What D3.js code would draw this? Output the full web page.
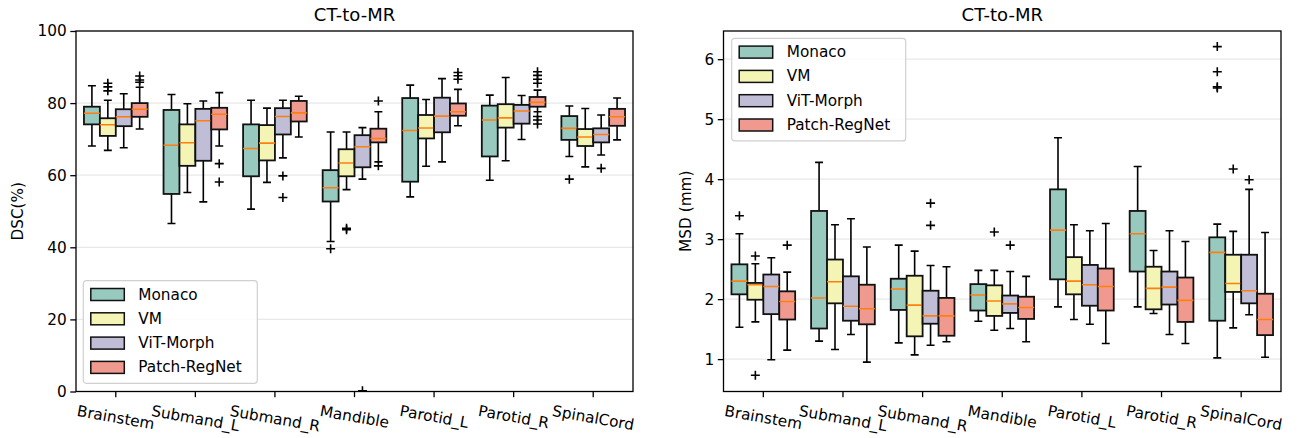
<!DOCTYPE html>
<html>
<head>
<meta charset="utf-8">
<script src="https://cdn.jsdelivr.net/npm/d3@7"></script>
<style>
  body { margin: 0; background: #fff; }
  svg { font-family: "DejaVu Sans", sans-serif; }
</style>
</head>
<body>
<svg id="chart" width="1298" height="438"></svg>
<script>
const categories = ['Brainstem', 'Submand_L', 'Submand_R', 'Mandible', 'Parotid_L', 'Parotid_R', 'SpinalCord'];
const methods = ['Monaco', 'VM', 'ViT-Morph', 'Patch-RegNet'];

// DSC (%) box stats per category: [lowWhisker, q1, median, q3, highWhisker]
const dscMonaco = [[68.1, 74.1, 77.2, 79.0, 84.8], [46.6, 54.8, 68.3, 78.1, 82.4], [50.6, 59.7, 67.4, 74.1, 80.8],
    [41.6, 52.7, 56.5, 61.4, 72.0], [54.0, 58.2, 72.4, 81.4, 85.0], [58.6, 65.2, 75.3, 79.3, 82.2], [65.2, 69.8, 73.0, 76.4, 79.2]];
const dscVM = [[66.9, 70.9, 74.0, 75.8, 80.8], [55.2, 62.6, 69.0, 74.1, 79.8], [58.0, 64.1, 68.9, 73.9, 78.6],
    [56.0, 59.7, 63.4, 67.2, 72.0], [62.5, 70.2, 73.1, 76.7, 81.0], [64.0, 73.2, 75.9, 79.7, 87.1], [62.3, 68.1, 70.6, 72.8, 78.5]];
const dscViT = [[67.6, 73.6, 76.2, 78.3, 82.6], [52.6, 64.0, 75.1, 78.4, 80.6], [64.8, 71.3, 76.3, 78.6, 80.8],
    [58.9, 62.2, 67.9, 71.1, 73.2], [63.7, 71.9, 76.4, 81.5, 86.8], [69.9, 74.3, 77.8, 79.5, 82.1], [65.6, 69.1, 71.3, 73.0, 76.7]];
const dscPatch = [[72.8, 76.2, 78.3, 80.0, 84.4], [68.1, 72.7, 76.9, 78.7, 82.9], [70.6, 74.9, 77.3, 80.6, 81.9],
    [63.7, 69.1, 70.2, 72.9, 77.6], [73.7, 76.5, 77.6, 79.9, 83.8], [77.6, 79.0, 80.2, 81.7, 83.6], [69.8, 73.7, 76.2, 78.4, 81.4]];

// DSC outliers per category
const dscMonacoOut = [[], [], [], [39.6], [], [], [58.9]];
const dscVMOut = [[85.5, 84.5, 83.4], [], [], [45.3, 44.9], [], [], []];
const dscViTOut = [[], [], [59.8, 53.8], [0.2], [], [], [61.9]];
const dscPatchOut = [[87.5, 86.4, 85.8], [63.2, 58.1], [], [80.6, 62.6], [88.5, 87.6, 86.6],
    [88.7, 87.7, 86.6, 85.5, 76.3, 75.3, 74.2], []];

// MSD (mm) box stats
const msdMonaco = [[1.53, 2.08, 2.30, 2.58, 3.09], [1.30, 1.51, 2.02, 3.47, 4.28], [1.27, 1.82, 2.17, 2.34, 2.90],
    [1.63, 1.81, 2.07, 2.25, 2.48], [1.87, 2.33, 3.15, 3.83, 4.69], [1.87, 2.46, 3.09, 3.47, 4.21], [1.02, 1.64, 2.78, 3.03, 3.25]];
const msdVM = [[1.62, 1.99, 2.24, 2.27, 2.59], [1.16, 1.93, 2.29, 2.66, 3.24], [1.07, 1.38, 1.90, 2.39, 2.80],
    [1.48, 1.72, 1.97, 2.23, 2.48], [1.66, 2.08, 2.30, 2.70, 3.24], [1.76, 1.83, 2.18, 2.54, 2.81], [1.52, 2.12, 2.26, 2.74, 3.13]];
const msdViT = [[0.99, 1.75, 2.21, 2.41, 2.69], [1.41, 1.64, 1.88, 2.38, 3.34], [1.23, 1.59, 1.72, 2.14, 2.56],
    [1.51, 1.77, 1.92, 2.06, 2.46], [1.58, 1.89, 2.24, 2.57, 3.14], [1.41, 1.91, 2.20, 2.46, 3.14], [1.74, 1.93, 2.14, 2.74, 3.83]];
const msdPatch = [[1.15, 1.66, 1.96, 2.13, 2.45], [0.95, 1.58, 1.84, 2.24, 2.87], [1.29, 1.39, 1.72, 2.02, 2.54],
    [1.29, 1.67, 1.86, 2.04, 2.38], [1.26, 1.81, 2.21, 2.51, 3.26], [1.26, 1.62, 1.98, 2.36, 2.96], [1.03, 1.40, 1.66, 2.09, 3.11]];

const msdMonacoOut = [[3.39], [], [], [], [], [], [6.21, 5.79, 5.54, 5.52]];
const msdVMOut = [[2.72, 0.73], [], [], [3.12], [], [], [4.17]];
const msdViTOut = [[], [], [3.60, 3.23], [2.90], [], [], [3.99]];
const msdPatchOut = [[2.90], [], [], [], [], [], []];

const dscTicks = [0, 20, 40, 60, 80, 100];
const msdTicks = [1, 2, 3, 4, 5, 6];

const colors = ['#98c9bf', '#f4f5b5', '#c0bdd7', '#f09a8f'];
const fs = 15.3;

const svg = d3.select('#chart');

function drawPanel(opt) {
    const x = d3.scaleBand().domain(categories).range([opt.left, opt.right]).padding(0);
    const inner = d3.scaleBand().domain(methods).range([x.bandwidth() * 0.1, x.bandwidth() * 0.9]).padding(0);
    const y = d3.scaleLinear().domain(opt.domain).range([opt.bottom, opt.top]);
    const g = svg.append('g');

    const clipId = 'clip' + opt.id;
    svg.append('clipPath').attr('id', clipId)
        .append('rect')
        .attr('x', opt.left).attr('y', opt.top)
        .attr('width', opt.right - opt.left).attr('height', opt.bottom - opt.top);

    // grid
    g.append('g').selectAll('line')
        .data(opt.ticks)
        .join('line')
        .attr('x1', opt.left).attr('x2', opt.right)
        .attr('y1', d => y(d)).attr('y2', d => y(d))
        .attr('stroke', '#e8e8e8').attr('stroke-width', 1.2);

    const rows = [];
    opt.stats.forEach((series, mi) => {
        series.forEach((s, ci) => {
            rows.push({ m: methods[mi], mi: mi, c: categories[ci], s: s, out: opt.outliers[mi][ci] });
        });
    });

    const box = g.append('g').attr('clip-path', `url(#${clipId})`)
        .selectAll('g')
        .data(rows)
        .join('g')
        .attr('transform', d => `translate(${x(d.c) + inner(d.m)},0)`);

    const bw = inner.bandwidth();
    const mid = bw / 2;

    box.append('line')
        .attr('x1', mid).attr('x2', mid)
        .attr('y1', d => y(d.s[0])).attr('y2', d => y(d.s[1]))
        .attr('stroke', '#000').attr('stroke-width', 1.6);
    box.append('line')
        .attr('x1', mid).attr('x2', mid)
        .attr('y1', d => y(d.s[3])).attr('y2', d => y(d.s[4]))
        .attr('stroke', '#000').attr('stroke-width', 1.6);
    box.append('line')
        .attr('x1', mid - bw / 4).attr('x2', mid + bw / 4)
        .attr('y1', d => y(d.s[0])).attr('y2', d => y(d.s[0]))
        .attr('stroke', '#000').attr('stroke-width', 1.6);
    box.append('line')
        .attr('x1', mid - bw / 4).attr('x2', mid + bw / 4)
        .attr('y1', d => y(d.s[4])).attr('y2', d => y(d.s[4]))
        .attr('stroke', '#000').attr('stroke-width', 1.6);

    box.append('rect')
        .attr('x', 0).attr('width', bw)
        .attr('y', d => y(d.s[3]))
        .attr('height', d => y(d.s[1]) - y(d.s[3]))
        .attr('fill', d => colors[d.mi])
        .attr('stroke', '#111').attr('stroke-width', 1.8);

    box.append('line')
        .attr('x1', 0).attr('x2', bw)
        .attr('y1', d => y(d.s[2])).attr('y2', d => y(d.s[2]))
        .attr('stroke', '#ff7f0e').attr('stroke-width', 1.6);

    box.selectAll('path.flier')
        .data(d => d.out)
        .join('path')
        .attr('class', 'flier')
        .attr('d', v => `M${mid - 4.5},${y(v)}h9M${mid},${y(v) - 4.5}v9`)
        .attr('stroke', '#000').attr('stroke-width', 1.6).attr('fill', 'none');

    // frame
    g.append('rect')
        .attr('x', opt.left).attr('y', opt.top)
        .attr('width', opt.right - opt.left).attr('height', opt.bottom - opt.top)
        .attr('fill', 'none').attr('stroke', '#000').attr('stroke-width', 1.3);

    // y axis
    const yAxis = d3.axisLeft(y).tickValues(opt.ticks).tickFormat(d3.format('d')).tickSize(5.7).tickPadding(3.5);
    const ya = g.append('g').attr('transform', `translate(${opt.left},0)`).call(yAxis);
    ya.select('.domain').remove();
    ya.selectAll('line').attr('stroke', '#000').attr('stroke-width', 1.3);
    ya.selectAll('text').attr('font-size', fs).attr('fill', '#000').attr('font-family', 'DejaVu Sans');

    // x axis
    const xAxis = d3.axisBottom(x).tickSize(5.7).tickFormat('');
    const xa = g.append('g').attr('transform', `translate(0,${opt.bottom})`).call(xAxis);
    xa.select('.domain').remove();
    xa.selectAll('line').attr('stroke', '#000').attr('stroke-width', 1.3);

    const ang = 10 * Math.PI / 180;
    const lab = g.append('g').selectAll('text')
        .data(categories)
        .join('text')
        .attr('font-size', fs)
        .attr('text-anchor', 'middle')
        .attr('dominant-baseline', 'central')
        .text(d => d);
    lab.each(function (d) {
        const w = this.getComputedTextLength();
        const h = fs * 1.05;
        const cy = opt.bottom + 11.5 + (w * Math.sin(ang) + h * Math.cos(ang)) / 2;
        d3.select(this).attr('transform', `translate(${x(d) + x.bandwidth() / 2},${cy}) rotate(10)`);
    });

    // titles
    g.append('text')
        .attr('x', (opt.left + opt.right) / 2).attr('y', 21)
        .attr('text-anchor', 'middle').attr('font-size', 18)
        .text('CT-to-MR');
    g.append('text')
        .attr('transform', `translate(${opt.labelX},${(opt.top + opt.bottom) / 2}) rotate(-90)`)
        .attr('text-anchor', 'middle').attr('dominant-baseline', 'central')
        .attr('font-size', fs)
        .text(opt.yLabel);

    // legend
    const lg = g.append('g').attr('transform', `translate(${opt.legendX},${opt.legendY})`);
    lg.append('rect')
        .attr('width', 174).attr('height', 102.6).attr('rx', 3)
        .attr('fill', '#fff').attr('fill-opacity', 0.8)
        .attr('stroke', '#d0d0d0').attr('stroke-width', 1.2);
    const item = lg.selectAll('g.item')
        .data(methods)
        .join('g')
        .attr('class', 'item')
        .attr('transform', (d, i) => `translate(0,${13.8 + i * 24.3})`);
    item.append('rect')
        .attr('x', 7.5).attr('y', -6).attr('width', 33.5).attr('height', 12)
        .attr('fill', (d, i) => colors[i])
        .attr('stroke', '#111').attr('stroke-width', 1.5);
    item.append('text')
        .attr('x', 55).attr('dominant-baseline', 'central')
        .attr('font-size', fs)
        .text(d => d);
}

drawPanel({
    id: 'dsc', left: 76, right: 633, top: 31, bottom: 391.5,
    domain: [0, 100], ticks: dscTicks,
    stats: [dscMonaco, dscVM, dscViT, dscPatch],
    outliers: [dscMonacoOut, dscVMOut, dscViTOut, dscPatchOut],
    yLabel: 'DSC(%)', labelX: 18,
    legendX: 83.3, legendY: 280.7
});

drawPanel({
    id: 'msd', left: 723.5, right: 1281, top: 31, bottom: 391.5,
    domain: [0.46, 6.47], ticks: msdTicks,
    stats: [msdMonaco, msdVM, msdViT, msdPatch],
    outliers: [msdMonacoOut, msdVMOut, msdViTOut, msdPatchOut],
    yLabel: 'MSD (mm)', labelX: 686,
    legendX: 731.7, legendY: 38.3
});
</script>
</body>
</html>
